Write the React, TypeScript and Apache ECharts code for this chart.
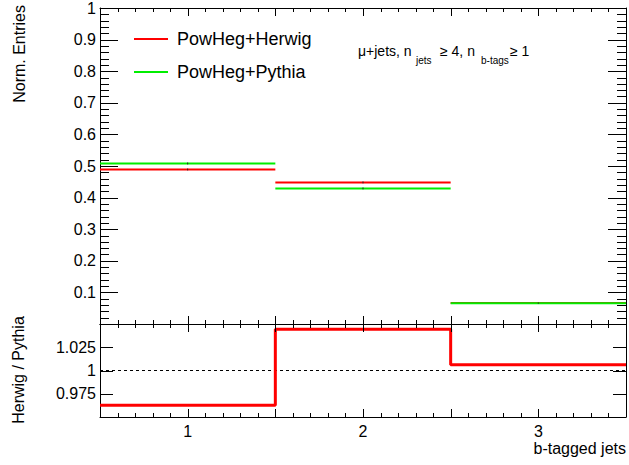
import React, { useEffect, useRef } from "react";
import * as echarts from "echarts";

const binEdges = [0.5, 1.5, 2.5, 3.5];
const binCenters = [1, 2, 3];
const herwig = [0.489, 0.448, 0.0664];
const pythia = [0.508, 0.429, 0.066];
const herwigErr = [0.003, 0.003, 0.001];
const pythiaErr = [0.003, 0.003, 0.001];
const topTickLabels = ["0.1", "0.2", "0.3", "0.4", "0.5", "0.6", "0.7", "0.8", "0.9", "1"];
const ratioTickLabels = ["0.975", "1", "1.025"];
const xTickLabels = ["1", "2", "3"];
const seriesNames = ["PowHeg+Herwig", "PowHeg+Pythia"];

const FONT = "'Liberation Sans', Arial, Helvetica, sans-serif";

function binData(vals: number[]) {
  return vals.map((v, i) => [binEdges[i], binEdges[i + 1], v]);
}

function errData(vals: number[], errs: number[]) {
  return vals.map((v, i) => [binCenters[i], v - errs[i], v + errs[i]]);
}

const ratio = herwig.map((h, i) => h / pythia[i]);
const ratioStep = [
  ...ratio.map((r, i) => [binEdges[i], r]),
  [binEdges[binEdges.length - 1], ratio[ratio.length - 1]],
];

function fmt(v: number) {
  return Math.round(v * 1000) / 1000;
}

// axis tick marks: [value, length px]
function tickList(min: number, max: number, step: number, majorEvery: number, majorLen: number, minorLen: number) {
  const out: number[][] = [];
  const n = Math.round((max - min) / step);
  for (let i = 0; i <= n; i++) {
    out.push([fmt(min + i * step), i % majorEvery === 0 ? majorLen : minorLen]);
  }
  return out;
}

export default function App() {
  const ref = useRef<HTMLDivElement>(null);
  useEffect(() => {
    if (!ref.current) return;
    const chart = echarts.init(ref.current, null, { renderer: "svg" });
    const black = "#000";
    const axisLine = { show: true, onZero: false, lineStyle: { color: black, width: 1 } };
    const xCommon = (gridIndex: number, position: string, showLabel: boolean) => ({
      type: "value",
      gridIndex,
      position,
      min: 0.5,
      max: 3.5,
      interval: 0.5,
      axisLine,
      axisTick: { show: false },
      minorTick: { show: false },
      splitLine: { show: false },
      axisLabel: {
        show: showLabel,
        margin: 6,
        fontFamily: FONT,
        fontSize: 16,
        color: black,
        formatter: (v: number) => {
          const s = String(fmt(v));
          return xTickLabels.includes(s) ? s : "";
        },
      },
    });
    const yTop = (position: string, showLabel: boolean) => ({
      type: "value",
      gridIndex: 0,
      position,
      min: 0,
      max: 1,
      interval: 0.1,
      axisLine,
      axisTick: { show: false },
      splitLine: { show: false },
      axisLabel: {
        show: showLabel,
        margin: 4,
        fontFamily: FONT,
        fontSize: 16,
        color: black,
        formatter: (v: number) => {
          const s = String(fmt(v));
          return topTickLabels.includes(s) ? s : "";
        },
      },
    });
    const yRatio = (position: string, showLabel: boolean) => ({
      type: "value",
      gridIndex: 1,
      position,
      min: 0.95,
      max: 1.05,
      interval: 0.025,
      axisLine,
      axisTick: { show: false },
      splitLine: { show: false },
      axisLabel: {
        show: showLabel,
        margin: 4,
        fontFamily: FONT,
        fontSize: 16,
        color: black,
        formatter: (v: number) => {
          const s = String(fmt(v));
          return ratioTickLabels.includes(s) ? s : "";
        },
      },
    });

    const binRender = (color: string, width: number) => (params: any, api: any) => {
      const p1 = api.coord([api.value(0), api.value(2)]);
      const p2 = api.coord([api.value(1), api.value(2)]);
      return {
        type: "line",
        shape: { x1: p1[0], y1: p1[1], x2: p2[0], y2: p2[1] },
        style: { stroke: color, lineWidth: width },
      };
    };
    const errRender = (params: any, api: any) => {
      const p1 = api.coord([api.value(0), api.value(1)]);
      const p2 = api.coord([api.value(0), api.value(2)]);
      return {
        type: "line",
        shape: { x1: p1[0], y1: p1[1], x2: p2[0], y2: p2[1] },
        style: { stroke: "#222", lineWidth: 1 },
      };
    };

    const baseGraphic: any[] = [
      {
        type: "text",
        x: 19,
        y: 5,
        rotation: Math.PI / 2,
        style: { text: "Norm. Entries", fontFamily: FONT, fontSize: 16, fill: black, align: "right", verticalAlign: "middle" },
      },
      {
        type: "text",
        x: 18,
        y: 370,
        rotation: Math.PI / 2,
        style: { text: "Herwig / Pythia", fontFamily: FONT, fontSize: 16, fill: black, align: "center", verticalAlign: "middle" },
      },
      {
        type: "text",
        x: 626,
        y: 448,
        style: { text: "b-tagged jets", fontFamily: FONT, fontSize: 16, fill: black, align: "right", verticalAlign: "middle" },
      },
      { type: "line", shape: { x1: 134, y1: 39, x2: 168, y2: 39 }, style: { stroke: "#ff0000", lineWidth: 2 } },
      { type: "line", shape: { x1: 134, y1: 72, x2: 168, y2: 72 }, style: { stroke: "#00ee00", lineWidth: 2 } },
      {
        type: "text",
        x: 177,
        y: 39,
        style: { text: seriesNames[0], fontFamily: FONT, fontSize: 18, fill: black, align: "left", verticalAlign: "middle" },
      },
      {
        type: "text",
        x: 177,
        y: 72,
        style: { text: seriesNames[1], fontFamily: FONT, fontSize: 18, fill: black, align: "left", verticalAlign: "middle" },
      },
      {
        type: "text",
        x: 358,
        y: 51,
        style: { text: "μ+jets, n", fontFamily: FONT, fontSize: 14, fill: black, align: "left", verticalAlign: "middle" },
      },
      {
        type: "text",
        x: 416,
        y: 60,
        style: { text: "jets", fontFamily: FONT, fontSize: 10, fill: black, align: "left", verticalAlign: "middle" },
      },
      {
        type: "text",
        x: 440,
        y: 51,
        style: { text: "≥ 4, n", fontFamily: FONT, fontSize: 14, fill: black, align: "left", verticalAlign: "middle" },
      },
      {
        type: "text",
        x: 481,
        y: 60,
        style: { text: "b-tags", fontFamily: FONT, fontSize: 10, fill: black, align: "left", verticalAlign: "middle" },
      },
      {
        type: "text",
        x: 510,
        y: 51,
        style: { text: "≥ 1", fontFamily: FONT, fontSize: 14, fill: black, align: "left", verticalAlign: "middle" },
      },
    ];

    const option: any = {
      animation: false,
      backgroundColor: "#fff",
      grid: [
        { left: 100, top: 5, width: 526, height: 319 },
        { left: 100, top: 324, width: 526, height: 93 },
      ],
      xAxis: [
        xCommon(0, "bottom", false),
        xCommon(0, "top", false),
        xCommon(1, "bottom", true),
        xCommon(1, "top", false),
      ],
      yAxis: [yTop("left", true), yTop("right", false), yRatio("left", true), yRatio("right", false)],
      series: [
        {
          name: seriesNames[0],
          type: "custom",
          xAxisIndex: 0,
          yAxisIndex: 0,
          renderItem: binRender("#ff0000", 2),
          encode: { x: [0, 1], y: 2 },
          data: binData(herwig),
        },
        {
          name: seriesNames[1],
          type: "custom",
          xAxisIndex: 0,
          yAxisIndex: 0,
          renderItem: binRender("#00ee00", 2),
          encode: { x: [0, 1], y: 2 },
          data: binData(pythia),
        },
        {
          name: "err-h",
          type: "custom",
          xAxisIndex: 0,
          yAxisIndex: 0,
          renderItem: errRender,
          encode: { x: 0, y: [1, 2] },
          data: errData(herwig, herwigErr),
        },
        {
          name: "err-p",
          type: "custom",
          xAxisIndex: 0,
          yAxisIndex: 0,
          renderItem: errRender,
          encode: { x: 0, y: [1, 2] },
          data: errData(pythia, pythiaErr),
        },
        {
          name: "unity",
          type: "line",
          xAxisIndex: 2,
          yAxisIndex: 2,
          showSymbol: false,
          symbol: "none",
          lineStyle: { color: black, width: 1, type: [3, 3] },
          data: [
            [0.5, 1],
            [3.5, 1],
          ],
        },
        {
          name: "ratio",
          type: "line",
          xAxisIndex: 2,
          yAxisIndex: 2,
          step: "end",
          showSymbol: false,
          symbol: "none",
          lineStyle: { color: "#ff0000", width: 3 },
          data: ratioStep,
        },
      ],
      graphic: baseGraphic,
    };
    chart.setOption(option);

    // frame ticks (ROOT style, pointing inward on all four sides), placed through the axes' own scales
    const tickEls: any[] = [];
    const px = (finder: any, v: number) => chart.convertToPixel(finder, v) as number;
    const addXTicks = (xIdx: number, yIdx: number, yMin: number, yMax: number, list: number[][]) => {
      const top = px({ yAxisIndex: yIdx }, yMax);
      const bottom = px({ yAxisIndex: yIdx }, yMin);
      list.forEach(([v, len]) => {
        const x = Math.round(px({ xAxisIndex: xIdx }, v)) + 0.5;
        tickEls.push({ type: "line", z: 100, shape: { x1: x, y1: top, x2: x, y2: top + len }, style: { stroke: black, lineWidth: 1 } });
        tickEls.push({ type: "line", z: 100, shape: { x1: x, y1: bottom, x2: x, y2: bottom - len }, style: { stroke: black, lineWidth: 1 } });
      });
    };
    const addYTicks = (xIdx: number, yIdx: number, list: number[][]) => {
      const left = px({ xAxisIndex: xIdx }, 0.5);
      const right = px({ xAxisIndex: xIdx }, 3.5);
      list.forEach(([v, len]) => {
        const y = Math.round(px({ yAxisIndex: yIdx }, v)) + 0.5;
        tickEls.push({ type: "line", z: 100, shape: { x1: left, y1: y, x2: left + len, y2: y }, style: { stroke: black, lineWidth: 1 } });
        tickEls.push({ type: "line", z: 100, shape: { x1: right, y1: y, x2: right - len, y2: y }, style: { stroke: black, lineWidth: 1 } });
      });
    };
    addXTicks(0, 0, 0, 1, tickList(0.5, 3.5, 0.1, 5, 8, 4));
    addXTicks(2, 2, 0.95, 1.05, tickList(0.5, 3.5, 0.1, 5, 8, 4));
    addYTicks(0, 0, tickList(0, 1, 0.02, 5, 18, 9));
    addYTicks(2, 2, tickList(0.95, 1.05, 0.025, 1, 13, 13));
    chart.setOption({ graphic: [...baseGraphic, ...tickEls] });

    return () => chart.dispose();
  }, []);
  return (
    <div
      ref={ref}
      style={{ position: "fixed", left: 0, top: 0, width: 629, height: 465, background: "#fff" }}
    />
  );
}
